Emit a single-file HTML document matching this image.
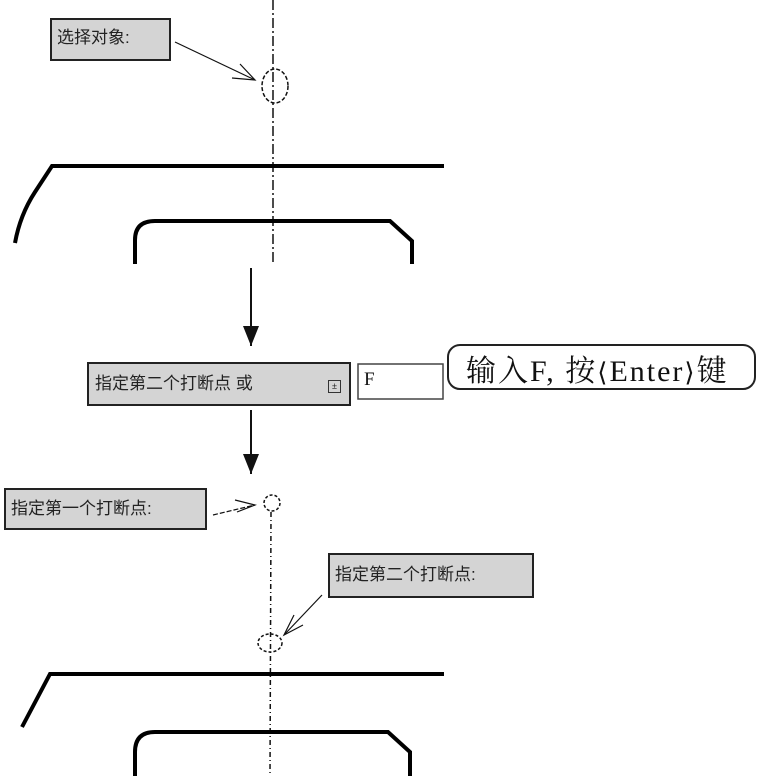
<!DOCTYPE html>
<html><head><meta charset="utf-8"><style>
body{margin:0;background:#fff;width:757px;height:776px;overflow:hidden;position:relative;font-family:"Liberation Sans","Noto Sans CJK SC",sans-serif}
.box{position:absolute;background:#d4d4d4;border:2px solid #222;box-sizing:border-box;color:#222;font-size:17px;line-height:1;white-space:nowrap}
.br{font-family:"DejaVu Serif",serif;font-size:26px}
</style></head><body>
<svg width="757" height="776" style="position:absolute;left:0;top:0" xmlns="http://www.w3.org/2000/svg">
<defs><marker id="ah" markerUnits="userSpaceOnUse" markerWidth="20" markerHeight="16" refX="20" refY="8" orient="auto"><path d="M0,0 L20,8 L0,16 Z" fill="#111"/></marker></defs>
<line x1="273" y1="0" x2="273" y2="265" stroke="#111" stroke-width="1.5" stroke-dasharray="10,3,2,3"/>
<ellipse cx="275" cy="86" rx="13" ry="17" fill="none" stroke="#111" stroke-width="1.5" stroke-dasharray="4,2"/>
<line x1="175" y1="42" x2="255" y2="80" stroke="#111" stroke-width="1.2"/>
<path d="M232,78 L255,80 L240,64" fill="none" stroke="#111" stroke-width="1.2"/>
<path d="M444,166 L52,166 L35,192 Q20,215 15,243" fill="none" stroke="#000" stroke-width="4"/>
<path d="M135,264 L135,240 Q135,221 155,221 L390,221 L412,241 L412,264" fill="none" stroke="#000" stroke-width="4"/>
<line x1="251" y1="268" x2="251" y2="346" stroke="#111" stroke-width="2" marker-end="url(#ah)"/>
<line x1="251" y1="410" x2="251" y2="474" stroke="#111" stroke-width="2" marker-end="url(#ah)"/>
<rect x="448" y="345" width="307" height="44" rx="12" fill="#fff" stroke="#222" stroke-width="2"/>
<rect x="358" y="364" width="85" height="35" fill="#fff" stroke="#444" stroke-width="1.5"/>
<circle cx="272" cy="503" r="8" fill="none" stroke="#111" stroke-width="1.5" stroke-dasharray="3,2"/>
<line x1="213" y1="515" x2="255" y2="505" stroke="#111" stroke-width="1.2" stroke-dasharray="5,2"/>
<path d="M235,500 L255,505 L237,512" fill="none" stroke="#111" stroke-width="1.2"/>
<line x1="271" y1="512" x2="270" y2="776" stroke="#111" stroke-width="1.5" stroke-dasharray="5,3,1,3"/>
<ellipse cx="270" cy="643" rx="12" ry="9" fill="none" stroke="#111" stroke-width="1.5" stroke-dasharray="3,2"/>
<line x1="322" y1="595" x2="284" y2="635" stroke="#111" stroke-width="1.2"/>
<path d="M294,615 L284,635 L303,625" fill="none" stroke="#111" stroke-width="1.2"/>
<path d="M444,674 L50,674 L22,727" fill="none" stroke="#000" stroke-width="4"/>
<path d="M135,776 L135,752 Q135,732 155,732 L388,732 L410,752 L410,776" fill="none" stroke="#000" stroke-width="4"/>
</svg>
<div class="box" style="left:50px;top:18px;width:121px;height:43px;padding:9px 0 0 5px">选择对象:</div>
<div class="box" style="left:87px;top:362px;width:264px;height:44px;padding:11px 0 0 6px">指定第二个打断点 或
<span style="position:absolute;left:239px;top:16px;width:11px;height:11px;border:1px solid #333;font-size:9px;line-height:10px;text-align:center">±</span></div>
<div style="position:absolute;left:364px;top:369px;font:19px 'Liberation Serif',serif;color:#111">F</div>
<div style="position:absolute;left:466px;top:346px;font:30px 'Liberation Serif','Noto Serif CJK SC',serif;color:#111;white-space:nowrap;letter-spacing:2px">输入F, 按<span class="br">⟨</span>Enter<span class="br">⟩</span>键</div>
<div class="box" style="left:4px;top:488px;width:203px;height:42px;padding:10px 0 0 5px">指定第一个打断点:</div>
<div class="box" style="left:328px;top:553px;width:206px;height:45px;padding:11px 0 0 5px">指定第二个打断点:</div>
</body></html>
